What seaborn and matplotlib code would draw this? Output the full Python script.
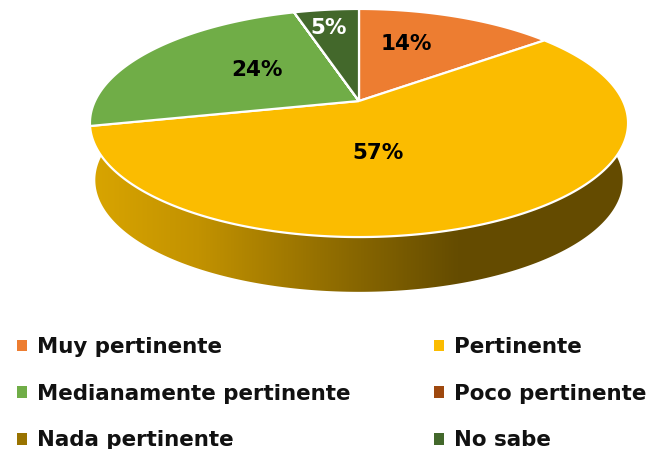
import numpy as np
import matplotlib
matplotlib.use("Agg")
import matplotlib.pyplot as plt
from matplotlib.colors import LinearSegmentedColormap
from matplotlib.patches import Patch, Polygon
from matplotlib.path import Path
import seaborn as sns

categories = ["Muy pertinente", "Pertinente", "Medianamente pertinente",
              "Poco pertinente", "Nada pertinente", "No sabe"]
values = [14.4, 57.1, 23.8, 0, 0, 4.7]
colors = ["#ED7D31", "#FBBC00", "#70AD47", "#9E480E", "#997300", "#43682B"]
label_text = ["14%", "57%", "24%", "", "", "5%"]

sns.set_theme(style="white")
plt.rcParams["font.family"] = ["DejaVu Sans"]

W, H = 648, 449
fig = plt.figure(figsize=(W / 100, H / 100), dpi=100)
ax = fig.add_axes([0, 0, 1, 1])

# Layout of the tilted disc, in pixels
CX, CY = 359, 101
A, B, K = 264, 109.8, 0.193


def project(u, v, dy=0.0, s=1.0):
    w = 1 + K * v
    return CX + s * A * u / w, CY + dy - s * B * v / w


wedges, _ = ax.pie(values, colors=sns.color_palette(colors), startangle=90,
                   counterclock=False, radius=1,
                   wedgeprops=dict(edgecolor="white", linewidth=1.6))

for w in wedges:
    th = np.radians(np.linspace(w.theta1, w.theta2, 200))
    x, y = project(np.r_[0, np.cos(th), 0], np.r_[0, np.sin(th), 0])
    w._path = Path(np.column_stack([x, y]), closed=False)
    w.set_zorder(3)

# Side wall of the disc
u_vals = np.radians(np.linspace(175, 365, 300))
tx, ty = project(np.cos(u_vals), np.sin(u_vals))
bx, by = project(np.cos(u_vals), np.sin(u_vals), dy=57.5, s=0.98)
wall = Polygon(np.column_stack([np.r_[tx, bx[::-1]], np.r_[ty, by[::-1]]]),
               closed=True, facecolor="none", edgecolor="none",
               transform=ax.transData)
ax.add_patch(wall)
cmap = LinearSegmentedColormap.from_list(
    "wall",
    [(0.0, "#D9A500"), (0.2, "#C29200"), (0.48, "#8A6800"),
     (0.68, "#654C00"), (1.0, "#644B00")])
img = ax.imshow(np.linspace(0, 1, 256)[None, :], cmap=cmap, aspect="auto",
                extent=(90, 630, 300, 90), zorder=1)
img.set_clip_path(wall)

ax.set_aspect("auto")
ax.set_xlim(0, W)
ax.set_ylim(H, 0)
ax.axis("off")

# Percent labels
label_xy = [(406, 44), (378, 153), (257, 70), None, None, (329, 28)]
label_col = ["black", "black", "black", "black", "black", "white"]
for txt, xy, c in zip(label_text, label_xy, label_col):
    if txt:
        ax.text(xy[0], xy[1], txt, ha="center", va="center", color=c,
                fontsize=15.5, fontweight="bold", zorder=5)

# Legend, filled column by column
order = [0, 2, 4, 1, 3, 5]
handles = [Patch(facecolor=colors[i], edgecolor="none", label=categories[i])
           for i in order]
leg = ax.legend(handles=handles, ncol=2, frameon=False,
                loc="upper left", bbox_to_anchor=(17 / W, 1 - 337 / H),
                bbox_transform=fig.transFigure, borderaxespad=0, borderpad=0,
                prop=dict(size=15.4, weight="bold", family="DejaVu Sans"),
                handlelength=0.47, handleheight=0.47, handletextpad=0.47,
                labelspacing=1.25, columnspacing=3.9, labelcolor="#111111")

fig.savefig("out.png", dpi=100, facecolor="white")
